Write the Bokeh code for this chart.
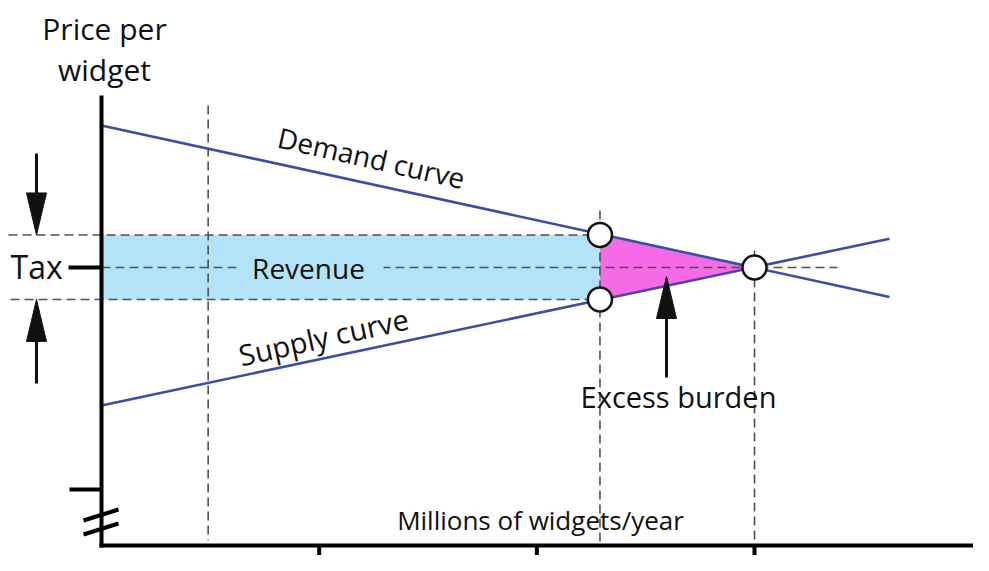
from bokeh.plotting import figure
from bokeh.models import Range1d, Label
from bokeh.embed import file_html
from bokeh.resources import INLINE

# ---------------- data ----------------
quantity_ticks = [1.0, 2.0, 3.0]          # millions of widgets / year
demand_q = [0.0, 3.62]
demand_p = [14.58, 9.05]
supply_q = [0.0, 3.62]
supply_p = [5.55, 10.93]
eq_q = [3.0]
eq_p = [10.0]
tax_q = [2.29]
buyer_price = [11.05]
seller_price = [8.97]
guide_q = [0.49]
price_floor = 1.03        # where the quantity axis sits (broken price axis)
lower_tick_p = 2.84

# ---------------- layout ----------------
W, H = 973, 555
SX, SY = 217.67, 31.0     # pixels per unit (quantity, price)


def X(px):                # picture pixel -> quantity
    return (px - 101) / SX


def Y(py):                # picture pixel -> price
    return 10 + (267 - py) / SY


p = figure(width=W, height=H, x_range=Range1d(X(0), X(W)),
           y_range=Range1d(Y(H), Y(0)), output_backend="svg",
           toolbar_location=None, min_border=0, x_axis_type=None,
           y_axis_type=None)
p.grid.visible = False
p.outline_line_color = None
p.background_fill_color = "white"

BLUE_FILL = "#b3e3f8"
PINK = "#f56be6"
CURVE = "#3b4ea6"
DASH = "#505050"
INK = "#111111"
FONT = "Open Sans"

# revenue band and excess burden triangle
p.quad(left=[0], right=tax_q, bottom=seller_price, top=buyer_price,
       fill_color=BLUE_FILL, line_color=None)
p.patch([tax_q[0], eq_q[0], tax_q[0]], [buyer_price[0], eq_p[0], seller_price[0]],
        fill_color=PINK, line_color=None)

# dashed guide lines
dash_kw = dict(line_color=DASH, line_width=1.6, line_dash="9 5")
p.segment(x0=[X(8), X(10), 0], y0=[buyer_price[0], seller_price[0], eq_p[0]],
          x1=[tax_q[0], tax_q[0], X(837)], y1=[buyer_price[0], seller_price[0], eq_p[0]],
          **dash_kw)
p.segment(x0=[guide_q[0], tax_q[0], eq_q[0]], y0=[Y(105), Y(210), Y(250)],
          x1=[guide_q[0], tax_q[0], eq_q[0]], y1=[Y(540), price_floor, price_floor],
          **dash_kw)

# backing behind the "Revenue" word
p.quad(left=[X(238)], right=[X(383)], bottom=[Y(279)], top=[Y(256)],
       fill_color=BLUE_FILL, line_color=None)

# supply and demand curves
p.line(demand_q, demand_p, line_color=CURVE, line_width=2.6)
p.line(supply_q, supply_p, line_color=CURVE, line_width=2.6)

# axes (drawn by hand: broken price axis)
ax_kw = dict(line_color="black", line_width=4)
p.segment(x0=[0], y0=[Y(95)], x1=[0], y1=[price_floor - 2 / SY], **ax_kw)
p.segment(x0=[-2 / SX], y0=[price_floor], x1=[X(995)], y1=[price_floor], **ax_kw)
p.segment(x0=quantity_ticks, y0=[price_floor] * 3, x1=quantity_ticks,
          y1=[Y(580)] * 3, **ax_kw)
p.segment(x0=[X(68), X(69)], y0=[eq_p[0], lower_tick_p], x1=[0, 0],
          y1=[eq_p[0], lower_tick_p], **ax_kw)
# axis break marks
p.segment(x0=[X(83), X(83)], y0=[Y(520), Y(534)], x1=[X(118), X(118)],
          y1=[Y(509), Y(523)], **ax_kw)

# intersection points
p.scatter(x=tax_q * 2 + eq_q, y=buyer_price + seller_price + eq_p, size=24,
          marker="circle", fill_color="white", line_color=INK, line_width=2.5)


# arrows (shaft + narrow head)
def arrow(xq, tail_p, tip_p):
    sign = 1 if tip_p > tail_p else -1
    base_p = tip_p - sign * 42 / SY
    p.segment(x0=[xq], y0=[tail_p], x1=[xq], y1=[base_p + sign * 2 / SY],
              line_color=INK, line_width=3)
    hw = 10 / SX
    p.patch([xq - hw, xq, xq + hw], [base_p, tip_p, base_p],
            fill_color=INK, line_color=INK, line_width=1)


arrow(X(36), Y(153), buyer_price[0])
arrow(X(36), Y(383), seller_price[0])
arrow(X(666), Y(377), Y(276))

# texts
LIFT = 11


def label(text, px, py, size, align="center", angle=0.0, baseline="alphabetic"):
    p.add_layout(Label(x=X(px), y=Y(py - LIFT), text=text, text_font=FONT,
                       text_font_size=f"{size}px", text_color=INK,
                       text_align=align, text_baseline=baseline, angle=angle))


label("Price per", 104, 39, 30)
label("widget", 104, 80, 30)
label("Tax", 10, 277, 32, align="left")
label("Revenue", 308, 278, 28)
label("Demand curve", 371, 168, 28, angle=-0.222)
label("Supply curve", 323, 347, 29, angle=0.218)
label("Excess burden", 678, 407, 29)
label("Millions of widgets/year", 540, 530, 26)

open("out.html", "w").write(file_html(p, INLINE))
